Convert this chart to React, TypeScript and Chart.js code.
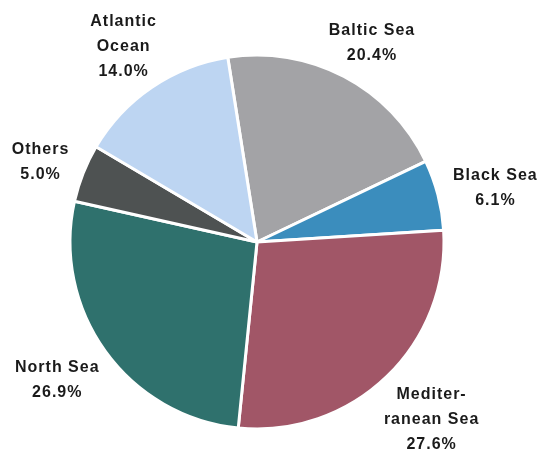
import React, { useEffect, useRef } from "react";
import { Chart, registerables } from "chart.js";

Chart.register(...registerables);

const categories = ["Baltic Sea", "Black Sea", "Mediterranean Sea", "North Sea", "Others", "Atlantic Ocean"];
const labelLines = [["Baltic Sea"], ["Black Sea"], ["Mediter-", "ranean Sea"], ["North Sea"], ["Others"], ["Atlantic", "Ocean"]];
const shares = [20.4, 6.1, 27.6, 26.9, 5.0, 14.0];
const colors = ["#a3a3a6", "#3b8dbd", "#a15667", "#2f716d", "#4e5252", "#bdd5f2"];

const labelPlugin = {
  id: "outerLabels",
  afterDatasetsDraw(chart: any) {
    const ctx = chart.ctx;
    const meta = chart.getDatasetMeta(0);
    const fontSize = 16;
    const lineH = 25;
    ctx.save();
    ctx.font = `bold ${fontSize}px "Liberation Sans", Arial, sans-serif`;
    try { (ctx as any).letterSpacing = "1px"; } catch (e) {}
    ctx.fillStyle = "#1a1a1a";
    ctx.textAlign = "center";
    ctx.textBaseline = "middle";
    meta.data.forEach((arc: any, i: number) => {
      const p = arc.getProps(["x", "y", "startAngle", "endAngle", "outerRadius"], true);
      const mid = (p.startAngle + p.endAngle) / 2;
      const ux = Math.cos(mid);
      const uy = Math.sin(mid);
      const lines = [...labelLines[i], shares[i].toFixed(1) + "%"];
      let w = 0;
      lines.forEach((l) => { w = Math.max(w, ctx.measureText(l).width); });
      const h = lines.length * lineH - 12;
      const d = p.outerRadius + 17;
      const cx = p.x + ux * d + ux * w / 2;
      const cy = p.y + uy * d + uy * h / 2 + 4 + uy * 6;
      const top = cy - ((lines.length - 1) * lineH) / 2;
      lines.forEach((l, j) => ctx.fillText(l, cx, top + j * lineH));
    });
    ctx.restore();
  },
};

export default function App() {
  const ref = useRef<HTMLCanvasElement | null>(null);
  useEffect(() => {
    if (!ref.current) return;
    const chart = new Chart(ref.current, {
      type: "pie",
      data: {
        labels: categories,
        datasets: [
          {
            data: shares,
            backgroundColor: colors,
            borderColor: "#ffffff",
            borderWidth: 3,
            hoverBorderWidth: 3,
            hoverOffset: 0,
          },
        ],
      },
      options: {
        responsive: true,
        maintainAspectRatio: false,
        animation: false,
        rotation: -9,
        radius: 187,
        layout: { padding: { left: 60, right: 83, top: 50, bottom: 20 } },
        plugins: { legend: { display: false }, tooltip: { enabled: false } },
        events: [],
      } as any,
      plugins: [labelPlugin],
    });
    return () => chart.destroy();
  }, []);
  return (
    <div style={{ position: "fixed", left: 0, top: 0, width: 537, height: 454, background: "#ffffff" }}>
      <canvas ref={ref} />
    </div>
  );
}
